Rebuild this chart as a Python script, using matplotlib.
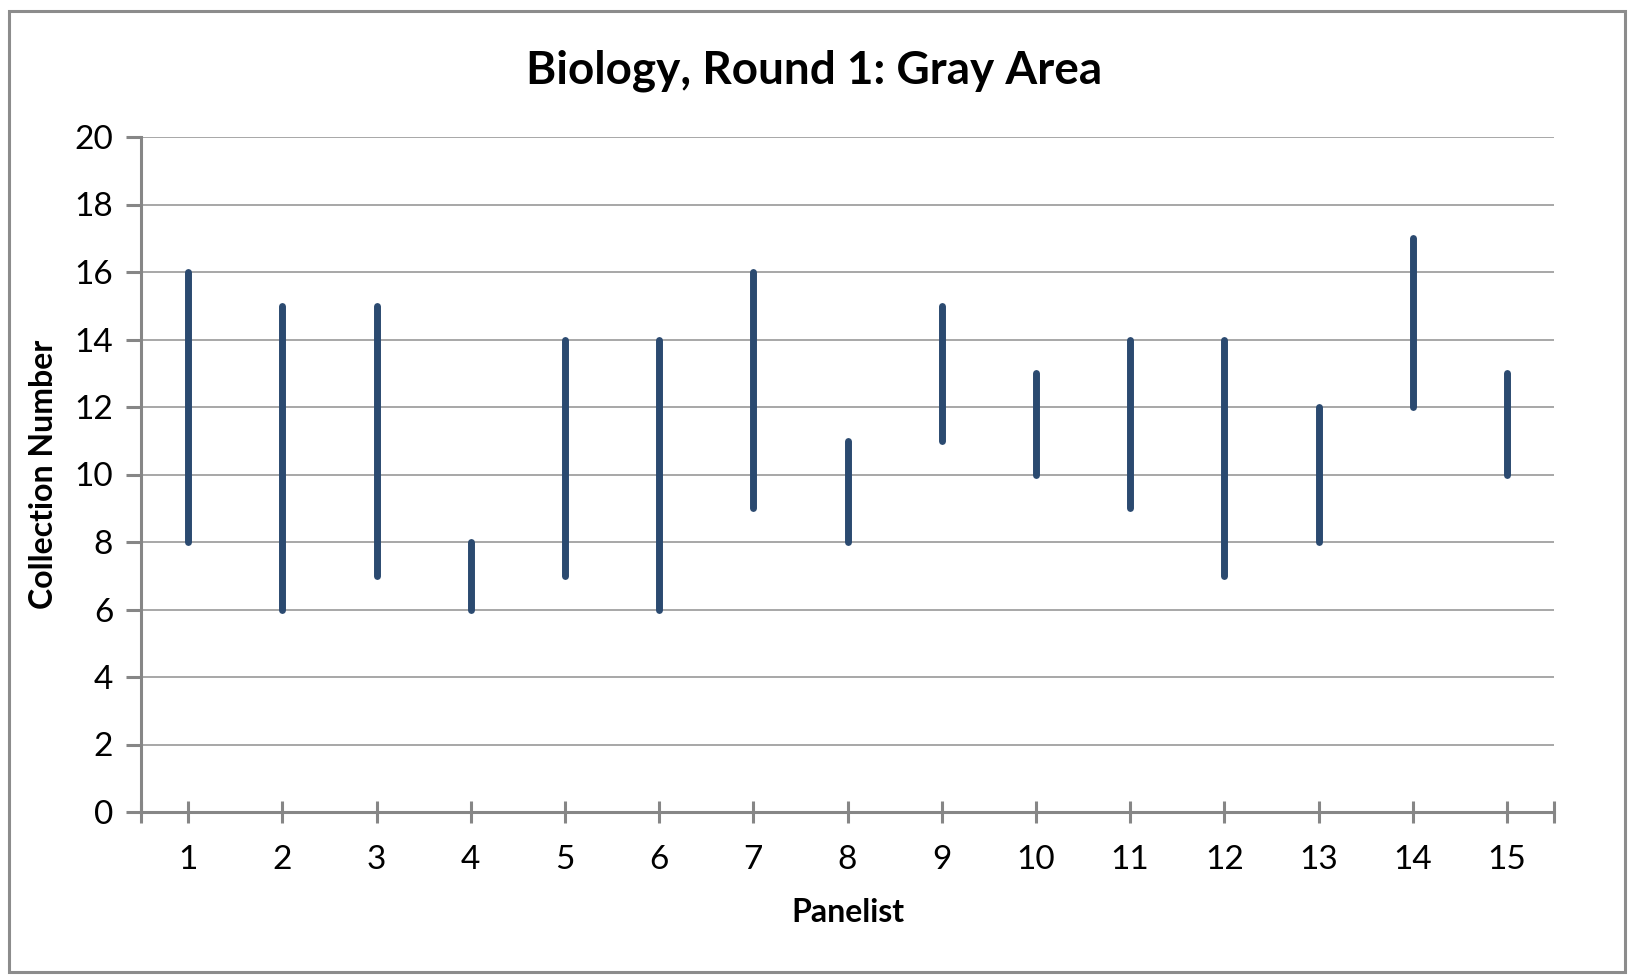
import matplotlib
matplotlib.use("Agg")
import matplotlib.pyplot as plt
from matplotlib.patches import Rectangle

panelists = list(range(1, 16))
low = [8, 6, 7, 6, 7, 6, 9, 8, 11, 10, 9, 7, 8, 12, 10]
high = [16, 15, 15, 8, 14, 14, 16, 11, 15, 13, 14, 14, 12, 17, 13]
yticks = [0, 2, 4, 6, 8, 10, 12, 14, 16, 18, 20]

title = "Biology, Round 1: Gray Area"
xlabel = "Panelist"
ylabel = "Collection Number"

plt.rcParams['font.family'] = ['Lato', 'DejaVu Sans']

W, H = 1629, 976
fig = plt.figure(figsize=(W / 100, H / 100), dpi=100)
fig.patch.set_facecolor("white")

# chart frame
fig.patches.append(Rectangle((9 / W, (H - 972) / H), (1625 - 9) / W, (972 - 11) / H,
                             transform=fig.transFigure, fill=False,
                             edgecolor="#8c8c8c", linewidth=2.2))

ax = fig.add_axes([141 / W, (H - 812) / H, (1554 - 141) / W, (812 - 137) / H])
ax.set_xlim(0.5, 15.5)
ax.set_ylim(0, 20)

ax.vlines(panelists, low, high, colors="#2b4a70", linewidth=5.0, capstyle="round", zorder=3)

ax.set_yticks(yticks)
ax.yaxis.grid(True, color="#a0a0a0", linewidth=1.3)
ax.set_axisbelow(True)
for s in ["top", "right"]:
    ax.spines[s].set_visible(False)
for s in ["left", "bottom"]:
    ax.spines[s].set_color("#868686")
    ax.spines[s].set_linewidth(2.2)

ax.set_xticks(panelists)
ax.set_xticks([0.5, 15.5], minor=True)
ax.tick_params(axis="x", which="both", direction="inout", length=16, width=2.2, color="#868686",
               labelsize=24, pad=16)
ax.tick_params(axis="y", direction="out", length=11, width=2.2, color="#868686",
               labelsize=24, pad=9)

fig.text(0.5, 1 - 71 / H, title, fontsize=33, fontweight="bold", ha="center", va="center")
ax.set_xlabel(xlabel, fontsize=23, fontweight="bold", labelpad=16)
ax.set_ylabel(ylabel, fontsize=23, fontweight="bold", labelpad=12)

fig.savefig("out.png", dpi=100)
